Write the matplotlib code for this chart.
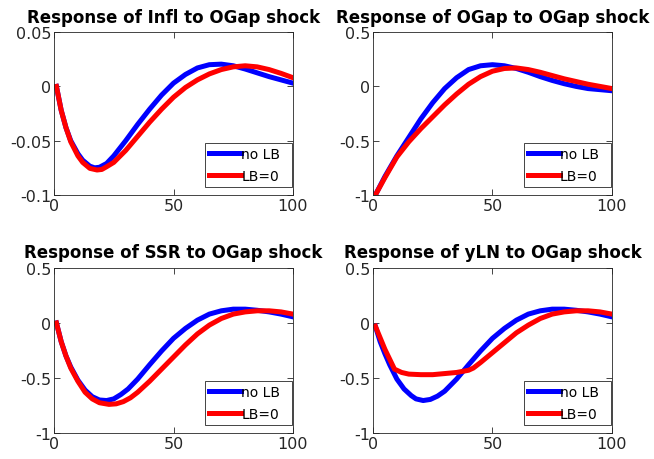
import matplotlib
matplotlib.use("Agg")
import matplotlib.pyplot as plt

plt.rcParams['font.family'] = ['DejaVu Sans']

# impulse responses (horizon, value)
infl_x_blue = [1, 3, 5, 7, 10, 12, 15, 17, 19, 22, 25, 30, 35, 40, 45, 50, 55, 60, 65, 70, 75, 80, 85, 90, 95, 100]
infl_blue = [0, -0.022, -0.038, -0.050, -0.062, -0.068, -0.0735, -0.075, -0.0745, -0.071, -0.064, -0.05,
             -0.035, -0.021, -0.008, 0.003, 0.011, 0.017, 0.020, 0.0205, 0.019, 0.016, 0.0125, 0.009, 0.006, 0.003]
infl_x_red = [1, 3, 5, 7, 10, 12, 15, 18, 20, 22, 25, 30, 35, 40, 45, 50, 55, 60, 65, 70, 75, 80, 85, 90, 95, 100]
infl_red = [0, -0.022, -0.038, -0.051, -0.064, -0.070, -0.0755, -0.077, -0.0765, -0.074, -0.070, -0.059,
            -0.046, -0.033, -0.021, -0.010, -0.001, 0.006, 0.0115, 0.0155, 0.018, 0.019, 0.018, 0.0155, 0.012, 0.008]

ogap_x = [1, 5, 10, 15, 20, 25, 30, 35, 40, 45, 50, 55, 60, 65, 70, 75, 80, 85, 90, 95, 100]
ogap_blue = [-1.0, -0.83, -0.64, -0.47, -0.30, -0.15, -0.02, 0.08, 0.155, 0.19, 0.20, 0.19, 0.165, 0.13,
             0.09, 0.055, 0.025, 0.0, -0.02, -0.03, -0.04]
ogap_red = [-1.0, -0.84, -0.65, -0.51, -0.39, -0.28, -0.17, -0.07, 0.02, 0.09, 0.14, 0.165, 0.17, 0.155,
            0.13, 0.10, 0.07, 0.045, 0.02, 0.0, -0.02]

ssr_x_blue = [1, 3, 5, 7, 10, 13, 16, 19, 22, 25, 28, 31, 35, 40, 45, 50, 55, 60, 65, 70, 75, 80, 85, 90, 95, 100]
ssr_blue = [0, -0.17, -0.3, -0.40, -0.52, -0.61, -0.67, -0.70, -0.705, -0.69, -0.65, -0.60, -0.51, -0.38,
            -0.255, -0.14, -0.05, 0.025, 0.08, 0.11, 0.125, 0.125, 0.115, 0.10, 0.08, 0.055]
ssr_x_red = [1, 3, 5, 7, 10, 13, 16, 19, 23, 26, 29, 32, 35, 40, 45, 50, 55, 60, 65, 70, 75, 80, 85, 90, 95, 100]
ssr_red = [0, -0.17, -0.3, -0.41, -0.53, -0.63, -0.69, -0.725, -0.74, -0.735, -0.715, -0.68, -0.63, -0.53,
           -0.42, -0.31, -0.20, -0.10, -0.02, 0.04, 0.08, 0.10, 0.11, 0.11, 0.10, 0.08]

yln_x_blue = [1, 3, 5, 7, 10, 13, 16, 18, 21, 24, 27, 30, 35, 40, 45, 50, 55, 60, 65, 70, 75, 80, 85, 90, 95, 100]
yln_blue = [-0.03, -0.17, -0.28, -0.38, -0.51, -0.60, -0.66, -0.69, -0.705, -0.695, -0.665, -0.62, -0.51,
            -0.38, -0.255, -0.14, -0.05, 0.025, 0.08, 0.11, 0.125, 0.125, 0.115, 0.10, 0.08, 0.055]
yln_x_red = [1, 5, 9, 12, 15, 20, 25, 30, 35, 40, 42, 45, 50, 55, 60, 65, 70, 75, 80, 85, 90, 95, 100]
yln_red = [-0.03, -0.24, -0.42, -0.45, -0.465, -0.47, -0.47, -0.46, -0.45, -0.43, -0.41, -0.36, -0.27,
           -0.18, -0.09, -0.02, 0.04, 0.08, 0.10, 0.11, 0.11, 0.10, 0.08]

titles = ['Response of Infl to OGap shock', 'Response of OGap to OGap shock',
          'Response of SSR to OGap shock', 'Response of yLN to OGap shock']
labels = ['no LB', 'LB=0']

panels = [
    (infl_x_blue, infl_blue, infl_x_red, infl_red, (-0.1, 0.05), [-0.1, -0.05, 0, 0.05], ['-0.1', '-0.05', '0', '0.05']),
    (ogap_x, ogap_blue, ogap_x, ogap_red, (-1, 0.5), [-1, -0.5, 0, 0.5], ['-1', '-0.5', '0', '0.5']),
    (ssr_x_blue, ssr_blue, ssr_x_red, ssr_red, (-1, 0.5), [-1, -0.5, 0, 0.5], ['-1', '-0.5', '0', '0.5']),
    (yln_x_blue, yln_blue, yln_x_red, yln_red, (-1, 0.5), [-1, -0.5, 0, 0.5], ['-1', '-0.5', '0', '0.5']),
]

positions = [
    [0.0826, 0.574, 0.3654, 0.354],
    [0.5703, 0.574, 0.3654, 0.354],
    [0.0826, 0.0565, 0.3654, 0.359],
    [0.5703, 0.0565, 0.3654, 0.359],
]

dark = '#262626'
fig = plt.figure(figsize=(6.54, 4.6), dpi=100)
for i, (xb, yb, xr, yr, ylim, yt, ytl) in enumerate(panels):
    ax = fig.add_axes(positions[i])
    ax.plot(xb, yb, color='blue', lw=3.6, label=labels[0], solid_joinstyle='round')
    ax.plot(xr, yr, color='red', lw=3.6, label=labels[1], solid_joinstyle='round')
    ax.set_xlim(0, 100)
    ax.set_ylim(*ylim)
    ax.set_xticks([0, 50, 100])
    ax.set_yticks(yt)
    ax.set_yticklabels(ytl)
    ax.tick_params(direction='in', top=True, right=True, labelsize=11.5, colors=dark, length=4, width=0.6, pad=2)
    for s in ax.spines.values():
        s.set_color(dark)
        s.set_linewidth(0.6)
    ax.set_title(titles[i], fontsize=12, fontweight='bold', pad=7.5)
    leg = ax.legend(loc='lower right', bbox_to_anchor=(0.632, 0.049, 0.364, 0.294), mode='expand',
                    borderaxespad=0, fontsize=10, frameon=True, fancybox=False,
                    handlelength=2.3, handletextpad=0.0, borderpad=0.3, labelspacing=0.55)
    leg.get_frame().set_edgecolor(dark)
    leg.get_frame().set_linewidth(0.6)
    leg.get_frame().set_alpha(1)

fig.savefig('out.png', dpi=100)
